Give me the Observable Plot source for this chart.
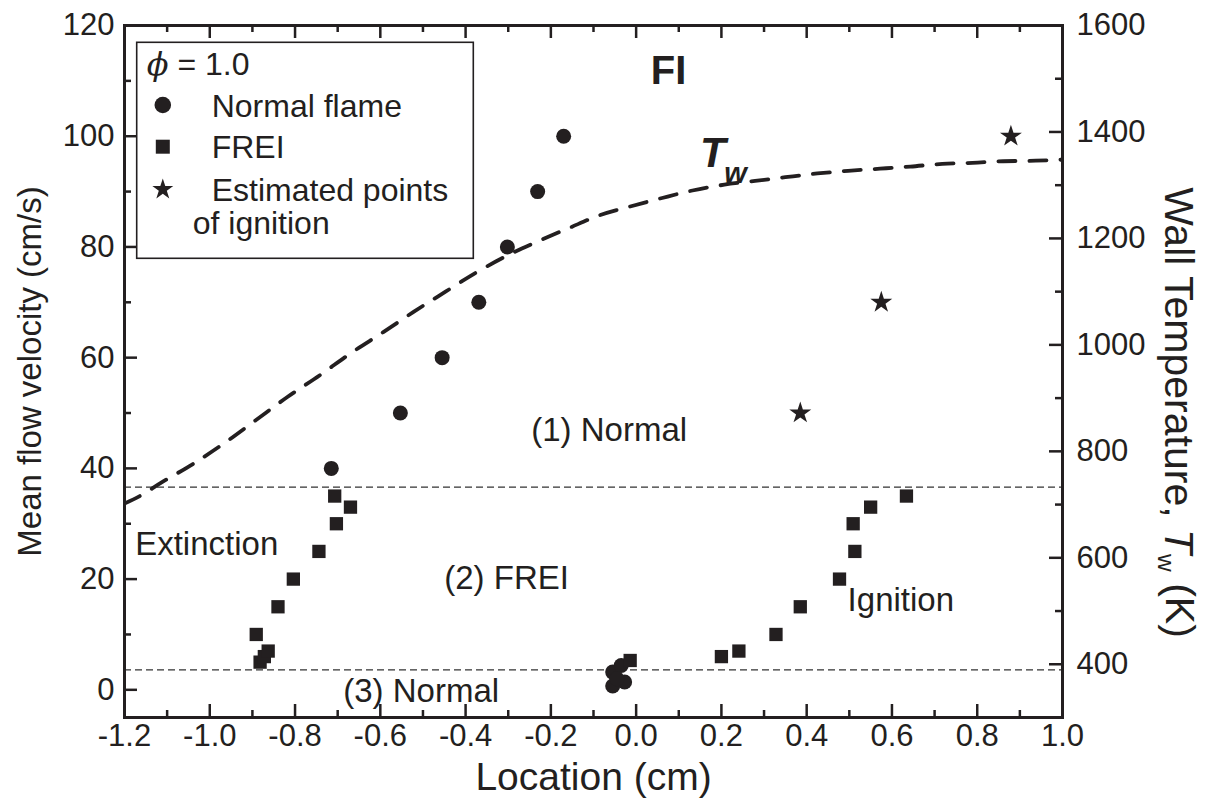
<!DOCTYPE html>
<html><head><meta charset="utf-8">
<script src="https://cdn.jsdelivr.net/npm/d3@7"></script>
<script src="https://cdn.jsdelivr.net/npm/@observablehq/plot@0.6"></script>
<style>body{margin:0;background:#fff;} svg{display:block}</style>
</head><body><div id="chart"></div>
<script>
// ---- data ----
const normalX = [-0.715, -0.553, -0.455, -0.369, -0.302, -0.231, -0.170, -0.055, -0.035, -0.027, -0.055, -0.045];
const normalY = [40, 50, 60, 70, 80, 90, 100, 3.2, 4.4, 1.4, 0.7, 2.0];
const freiX = [-0.882, -0.872, -0.863, -0.891, -0.840, -0.804, -0.744, -0.703, -0.707, -0.670,
               -0.014,
               0.200, 0.241, 0.328, 0.385, 0.477, 0.513, 0.509, 0.550, 0.634];
const freiY = [5, 6, 7, 10, 15, 20, 25, 30, 35, 33,
               5.3,
               6, 7, 10, 15, 20, 25, 30, 33, 35];
const starX = [0.385, 0.575, 0.879];
const starY = [50, 70, 100];
const twX = [-1.2, -1.162, -1.112, -1.038, -0.963, -0.893, -0.818, -0.740, -0.670, -0.593, -0.522, -0.447, -0.377, -0.302, -0.232, -0.159, -0.084, -0.014, 0.061, 0.132, 0.207, 0.279, 0.350, 0.425, 0.497, 0.572, 0.643, 0.718, 0.789, 0.861, 0.937, 1.0];
const twK = [702, 717, 742, 777, 817, 858, 902, 944, 984, 1024, 1062, 1100, 1135, 1168, 1194, 1219, 1244, 1260, 1276, 1290, 1301, 1308, 1315, 1322, 1327, 1331, 1335, 1340, 1342, 1345, 1346, 1348];
const boundaryY = [3.6, 36.6];

const xTicks = [-1.2, -1.0, -0.8, -0.6, -0.4, -0.2, 0.0, 0.2, 0.4, 0.6, 0.8, 1.0];
const xMinor = [-1.1, -0.9, -0.7, -0.5, -0.3, -0.1, 0.1, 0.3, 0.5, 0.7, 0.9];
const yTicks = [0, 20, 40, 60, 80, 100, 120];
const yMinor = [10, 30, 50, 70, 90, 110];
const tTicks = [400, 600, 800, 1000, 1200, 1400, 1600];
const tMinor = [500, 700, 900, 1100, 1300, 1500];

const regionText = ["(1) Normal", "(2) FREI", "(3) Normal", "Extinction", "Ignition"];
const regionX = [-0.246, -0.45, -0.687, -1.175, 0.496];
const regionY = [46.9, 20.1, -0.24, 26.3, 16.1];

const legendItems = ["Normal flame", "FREI", "Estimated points"];
const xTitle = "Location (cm)";
const yTitle = "Mean flow velocity (cm/s)";
const y2Title = "Wall Temperature, Tw (K)";

// ---- helpers ----
const FONT = "'Liberation Sans', Arial, Helvetica, sans-serif";
const INK = "#231f20";
const T0 = 300, T1 = 1600, V0 = -5, V1 = 120;
const toV = T => V0 + (T - T0) * (V1 - V0) / (T1 - T0);
const W = 1211, H = 809, ML = 124, MR = 149, MT = 25, MB = 92;
const IW = W - ML - MR, IH = H - MT - MB;
const MAJ = 13, MIN = 7;

const normal = normalX.map((x, i) => ({x, y: normalY[i]}));
const frei = freiX.map((x, i) => ({x, y: freiY[i]}));
const stars = starX.map((x, i) => ({x, y: starY[i]}));
const tw = twX.map((x, i) => ({x, T: twK[i]}));
const regions = regionText.map((t, i) => ({t, x: regionX[i], y: regionY[i]}));
const fmtX = d => d.toFixed(1);

const plot = Plot.plot({
  width: W, height: H,
  marginLeft: ML, marginRight: MR, marginTop: MT, marginBottom: MB,
  x: {domain: [-1.2, 1.0], axis: null},
  y: {domain: [V0, V1], axis: null},
  style: {fontFamily: FONT, fontSize: "31px", color: INK, background: "white"},
  marks: [
    Plot.ruleY(boundaryY, {y: d => d, stroke: "#333", strokeWidth: 1.3, strokeDasharray: "7,4"}),
    Plot.line(tw, {x: "x", y: d => toV(d.T), stroke: INK, strokeWidth: 3.8, strokeDasharray: "17,14", curve: "monotone-x", clip: true}),
    Plot.dot(normal, {x: "x", y: "y", r: 7.5, fill: INK, symbol: "circle"}),
    Plot.dot(frei, {x: "x", y: "y", r: 7.5, fill: INK, symbol: "square"}),
    Plot.dot(stars, {x: "x", y: "y", r: 6.9, fill: INK, symbol: "star"}),
    // ticks (inward)
    Plot.ruleX(xTicks, {x: d => d, insetTop: IH - MAJ, stroke: INK, strokeWidth: 2.5}),
    Plot.ruleX(xMinor, {x: d => d, insetTop: IH - MIN, stroke: INK, strokeWidth: 2.5}),
    Plot.ruleX(xTicks, {x: d => d, insetBottom: IH - MAJ, stroke: INK, strokeWidth: 2.5}),
    Plot.ruleX(xMinor, {x: d => d, insetBottom: IH - MIN, stroke: INK, strokeWidth: 2.5}),
    Plot.ruleY(yTicks, {y: d => d, insetRight: IW - MAJ, stroke: INK, strokeWidth: 2.5}),
    Plot.ruleY(yMinor, {y: d => d, insetRight: IW - MIN, stroke: INK, strokeWidth: 2.5}),
    Plot.ruleY(tTicks, {y: d => toV(d), insetLeft: IW - MAJ, stroke: INK, strokeWidth: 2.5}),
    Plot.ruleY(tMinor, {y: d => toV(d), insetLeft: IW - MIN, stroke: INK, strokeWidth: 2.5}),
    Plot.frame({stroke: INK, strokeWidth: 3}),
    // tick labels
    Plot.text(xTicks, {x: d => d, frameAnchor: "bottom", dy: 28, text: fmtX, fontSize: 31, fill: INK}),
    Plot.text(yTicks, {y: d => d, frameAnchor: "left", dx: -10, textAnchor: "end", text: d => String(d), fontSize: 31, fill: INK}),
    Plot.text(tTicks, {y: d => toV(d), frameAnchor: "right", dx: 14, textAnchor: "start", text: d => String(d), fontSize: 31, fill: INK}),
    // axis titles
    Plot.text([xTitle], {frameAnchor: "bottom", dy: 72, textAnchor: "middle", text: d => d, fontSize: 39, fill: INK}),
    Plot.text([yTitle], {frameAnchor: "left", dx: -94, rotate: -90, textAnchor: "middle", text: d => d, fontSize: 33, fill: INK}),
    Plot.text([y2Title], {frameAnchor: "right", dx: 116, dy: 41, rotate: 90, textAnchor: "middle", text: d => d, fontSize: 41, fill: INK}),
    // annotations
    Plot.text(regions, {x: "x", y: "y", text: "t", textAnchor: "start", fontSize: 33, fill: INK}),
    Plot.text(["FI"], {x: 0.076, y: 111.7, text: d => d, fontSize: 40, fontWeight: "bold", fill: INK}),
    Plot.text(["T"], {x: 0.180, y: 96.8, text: d => d, fontSize: 42, fontWeight: "bold", fontStyle: "italic", fill: INK}),
    Plot.text(["w"], {x: 0.233, y: 93.3, text: d => d, fontSize: 29, fontWeight: "bold", fontStyle: "italic", fill: INK})
  ]
});
document.getElementById("chart").appendChild(plot);

// subscript in the right axis title
const svg = d3.select(plot);
svg.selectAll("text").filter(function() { return this.textContent === y2Title; }).each(function() {
  const t = d3.select(this);
  t.text(null);
  t.append("tspan").text("Wall Temperature, ");
  t.append("tspan").attr("font-style", "italic").text("T");
  t.append("tspan").attr("font-size", "0.6em").attr("dy", "0.3em").text("w");
  t.append("tspan").attr("dy", "-0.2em").text(" (K)");
});

// legend box
const lg = svg.append("g").attr("font-family", FONT).attr("font-size", 32).attr("fill", INK).attr("text-anchor", "start");
lg.append("rect").attr("x", 136.7).attr("y", 42.3).attr("width", 336.6).attr("height", 216)
  .attr("fill", "white").attr("stroke", INK).attr("stroke-width", 1.6);
const phi = lg.append("text").attr("x", 146.7).attr("y", 75);
phi.append("tspan").attr("font-family", "'DejaVu Serif', serif").attr("font-style", "italic").text("ϕ");
phi.append("tspan").text(" = 1.0");
const symCx = 162.8;
const symY = [105, 146.7, 189.5];
const syms = [d3.symbolCircle, d3.symbolSquare, d3.symbolStar];
const symSize = [215, 196, 136];
legendItems.forEach((label, i) => {
  lg.append("path").attr("d", d3.symbol(syms[i], symSize[i])())
    .attr("transform", `translate(${symCx},${symY[i]})`).attr("fill", INK);
  lg.append("text").attr("x", 211.7).attr("y", symY[i] + 11.5).text(label);
});
lg.append("text").attr("x", 192.7).attr("y", 234).text("of ignition");
</script>
</body></html>
